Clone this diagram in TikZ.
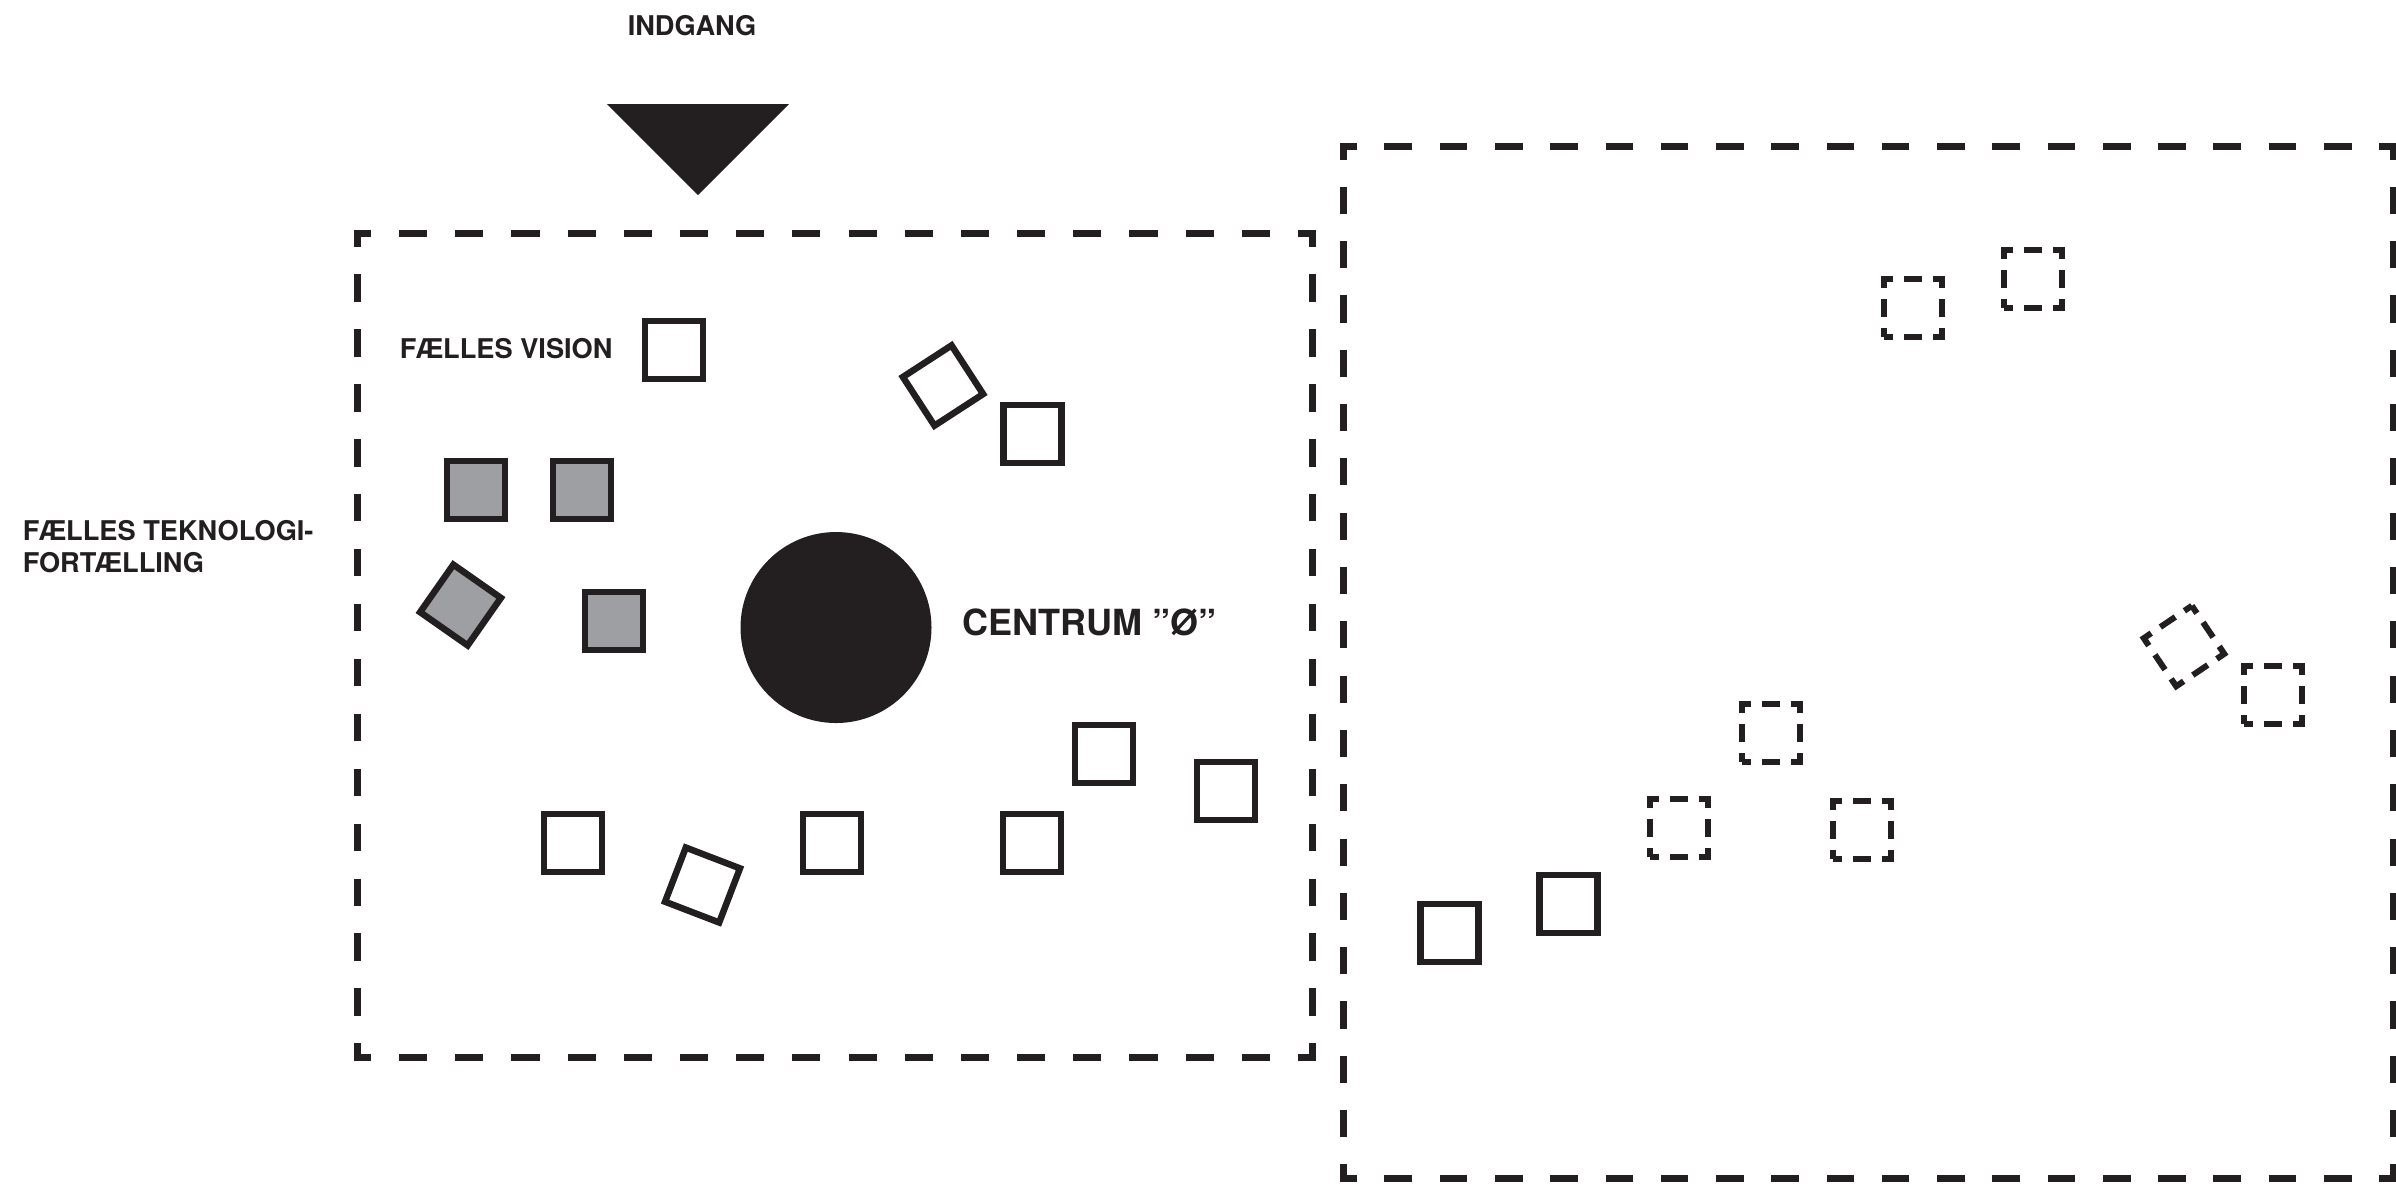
\documentclass[tikz,border=0pt]{standalone}
\usepackage{fontspec}
\setmainfont{texgyreheros}[Extension=.otf, UprightFont=*-regular, BoldFont=*-bold, ItalicFont=*-italic, BoldItalicFont=*-bolditalic]
\definecolor{dark}{RGB}{35,31,32}
\definecolor{grayfill}{RGB}{157,159,162}
\tikzset{
  sq/.style={draw=dark, line width=1.625pt, rectangle, minimum size=14.5pt, inner sep=0pt, fill=white},
  gsq/.style={sq, fill=grayfill},
  dsq/.style={draw=dark, line width=1.5pt, dash pattern=on 4.5pt off 2.75pt, dash phase=2.25pt, rectangle, minimum size=14.5pt, inner sep=0pt},
  bigline/.style={draw=dark, line width=1.75pt},
  lbl/.style={text=dark, inner sep=0pt, font=\bfseries\fontsize{6.8}{8.2}\selectfont},
}
\begin{document}
\begin{tikzpicture}[x=0.25pt,y=-0.25pt]
\useasboundingbox (0,0) rectangle (2396,1183);
% labels
\node[lbl, anchor=base] (indgang) at (692,35) {INDGANG};
\node[lbl, anchor=base west] (vision) at (399,358) {FÆLLES VISION};
\node[lbl, anchor=base west] (tek1) at (22,540.5) {FÆLLES TEKNOLOGI-};
\node[lbl, anchor=base west] (tek2) at (22,572) {FORTÆLLING};
\node[lbl, anchor=base west, font=\bfseries\fontsize{9}{10.8}\selectfont] (centrumtxt) at (962,635) {CENTRUM ”Ø”};
% entrance triangle
\fill[dark] (607,104) -- (789,104) -- (698,195) -- cycle;
% centre circle
\fill[dark] (836,627.5) circle (95.5);
% left dashed box
\draw[bigline, dash pattern=on 7.022pt off 7.022pt, dash phase=2.636pt] (353.5,233) -- (1315.5,233);
\draw[bigline, dash pattern=on 7.022pt off 7.022pt, dash phase=2.636pt] (353.5,1057) -- (1315.5,1057);
\draw[bigline, dash pattern=on 6.867pt off 6.867pt, dash phase=2.558pt] (357,229.5) -- (357,1060.5);
\draw[bigline, dash pattern=on 6.867pt off 6.867pt, dash phase=2.558pt] (1312,229.5) -- (1312,1060.5);
% right dashed box
\draw[bigline, dash pattern=on 6.908pt off 6.908pt, dash phase=2.579pt] (1339.5,146) -- (2396.5,146);
\draw[bigline, dash pattern=on 6.908pt off 6.908pt, dash phase=2.579pt] (1339.5,1178) -- (2396.5,1178);
\draw[bigline, dash pattern=on 6.789pt off 6.789pt, dash phase=2.52pt] (1343,142.5) -- (1343,1181.5);
\draw[bigline, dash pattern=on 6.789pt off 6.789pt, dash phase=2.52pt] (2393,142.5) -- (2393,1181.5);
% left box squares
\node[sq] (s1) at (674,350) {};
\node[sq, rotate=33] (s2) at (943,385.5) {};
\node[gsq] (g1) at (476,490) {};
\node[gsq] (g2) at (582,490) {};
\node[gsq, rotate=-35] (g3) at (460.5,605) {};
\node[gsq] (g4) at (614,621) {};
\node[sq] (s7) at (1032.5,434) {};
\node[sq] (s8) at (573,843) {};
\node[sq, rotate=-21] (s9) at (702.5,885) {};
\node[sq] (s10) at (832,843) {};
\node[sq] (s11) at (1032,843) {};
\node[sq] (s12) at (1104,754) {};
\node[sq] (s13) at (1226,791) {};
% right box squares
\node[sq] (r1) at (1449.5,933) {};
\node[sq] (r2) at (1568.5,904) {};
\node[dsq] (d1) at (1913,308) {};
\node[dsq] (d2) at (2032.5,278.5) {};
\node[dsq, rotate=34] (d3) at (2184,646) {};
\node[dsq] (d4) at (2273,695) {};
\node[dsq] (d5) at (1771,733) {};
\node[dsq] (d6) at (1679,828) {};
\node[dsq] (d7) at (1861.5,830) {};
\end{tikzpicture}
\end{document}
